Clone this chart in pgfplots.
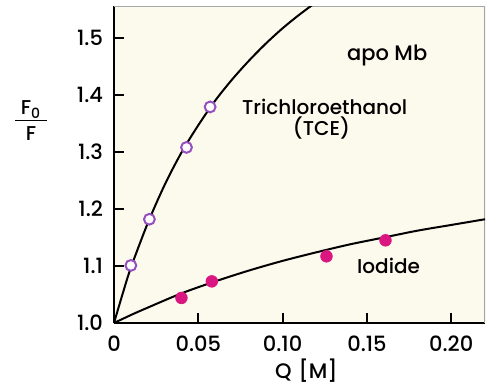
\documentclass[border=0pt]{standalone}
\usepackage{fontspec}
\setmainfont{Poppins}[UprightFont=* Medium]
\usepackage{pgfplots}
\pgfplotsset{compat=1.18}
\definecolor{cream}{RGB}{252,249,237}
\definecolor{tcepurple}{RGB}{150,80,190}
\definecolor{iodmag}{RGB}{218,22,128}
\begin{document}
\begin{tikzpicture}
\useasboundingbox (-57pt,-32pt) rectangle (186pt,161.5pt);
\begin{axis}[
  at={(0,0)}, anchor=south west,
  scale only axis, width=185.5pt, height=158.5pt,
  xmin=0, xmax=0.22, ymin=1.0, ymax=1.556,
  axis x line*=bottom, axis y line*=left,
  axis line style={line width=1pt, black},
  axis background/.style={fill=cream},
  tick align=inside, major tick length=5pt,
  tick style={line width=0.9pt, black},
  xtick={0,0.05,0.10,0.15,0.20},
  xticklabels={0,0.05,0.10,0.15,0.20},
  ytick={1.0,1.1,1.2,1.3,1.4,1.5},
  yticklabels={1.0,1.1,1.2,1.3,1.4,1.5},
  /pgf/number format/assume math mode=true,
  ticklabel style={font=\fontsize{10.5}{12}\selectfont},
  yticklabel style={xshift=-2pt},
  xticklabel style={yshift=-3pt},
  clip=true,
]
% top and right frame
\draw[gray!70, line width=0.8pt] (rel axis cs:0,1) -- (rel axis cs:1,1) -- (rel axis cs:1,0);
% TCE fitted curve
\addplot[black, line width=1pt, smooth] coordinates {
 (0,1.000) (0.005,1.050) (0.010,1.097) (0.020,1.175) (0.030,1.242)
 (0.040,1.299) (0.050,1.347) (0.060,1.390) (0.070,1.427) (0.080,1.460)
 (0.090,1.490) (0.100,1.517) (0.110,1.541) (0.120,1.563)};
% Iodide fitted curve
\addplot[black, line width=1pt, smooth] coordinates {
 (0,1.000) (0.010,1.014) (0.020,1.027) (0.040,1.052) (0.060,1.073)
 (0.080,1.092) (0.100,1.109) (0.120,1.124) (0.140,1.138) (0.160,1.150)
 (0.180,1.162) (0.200,1.172) (0.220,1.182)};
% TCE data
\addplot[only marks, mark=*, mark size=2.7pt,
  mark options={draw=tcepurple, fill=white, line width=1pt}] coordinates {
 (0.010,1.101) (0.021,1.182) (0.043,1.308) (0.057,1.379)};
% Iodide data
\addplot[only marks, mark=*, mark size=2.9pt,
  mark options={draw=iodmag, fill=iodmag}] coordinates {
 (0.040,1.044) (0.058,1.073) (0.126,1.117) (0.161,1.145)};
\node[font=\fontsize{10.5}{12}\selectfont] at (axis cs:0.162,1.470) {apo Mb};
\node[anchor=west, font=\fontsize{10}{12}\selectfont] at (axis cs:0.0718,1.379) {Trichloroethanol};
\node[font=\fontsize{10}{12}\selectfont] at (axis cs:0.123,1.342) {(TCE)};
\node[anchor=west, font=\fontsize{10}{12}\selectfont] at (axis cs:0.140,1.100) {Iodide};
\end{axis}
\node[anchor=west, font=\fontsize{10.5}{12}\selectfont] at (77pt,-24pt) {Q\,\,[M]};
\node[font=\fontsize{10}{12}\selectfont, inner sep=0pt] at (-41.5pt,100pt)
  {\begin{tabular}{@{\hspace{3pt}}c@{\hspace{3pt}}}F\textsubscript{0}\\[-1pt]\hline\rule{0pt}{10pt}F\end{tabular}};
\end{tikzpicture}
\end{document}
